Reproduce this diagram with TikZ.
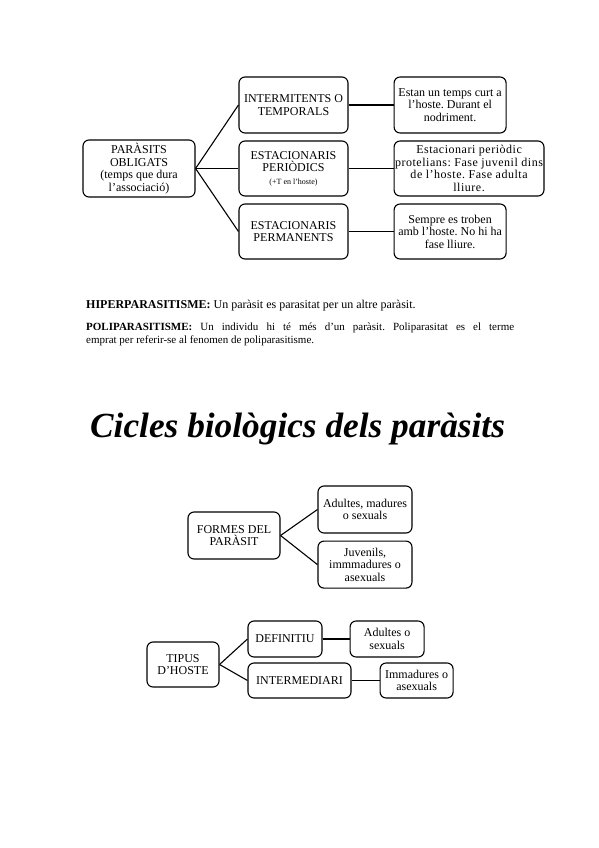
\documentclass[tikz,border=0pt]{standalone}
\usepackage{fontspec}
\setmainfont{Liberation Serif}
\usetikzlibrary{positioning}
\frenchspacing

\begin{document}
\begin{tikzpicture}[x=1pt,y=-1pt,
  box/.style={draw,rounded corners=6pt,line width=1.1pt,align=center,inner sep=1pt,font=\fontsize{12}{12.5}\selectfont},
  link/.style={line width=1.1pt}]
  \useasboundingbox (0,0) rectangle (599,848);
  % parasits obligats
  \node[box,minimum width=112pt,minimum height=57pt] (obligats) at (139,168.5) {PARÀSITS\\OBLIGATS\\(temps que dura\\l'associació)};
  \node[box,minimum width=109pt,minimum height=56pt] (intermitents) at (293.5,105) {INTERMITENTS O\\TEMPORALS};
  \node[box,minimum width=109pt,minimum height=55pt] (periodics) at (293.5,168.5) {ESTACIONARIS\\PERIÒDICS\\{\fontsize{8}{9}\selectfont (+T en l'hoste)}};
  \node[box,minimum width=109pt,minimum height=55pt] (permanents) at (293.5,231.5) {ESTACIONARIS\\PERMANENTS};
  \node[box,minimum width=112pt,minimum height=56pt,right=45pt of intermitents] (curt) {Estan un temps curt a\\l'hoste. Durant el\\nodriment.};
  \node[box,minimum width=142pt,minimum height=55pt,right=45pt of periodics,font=\fontsize{12}{12.5}\selectfont\addfontfeature{LetterSpace=4.3}] (protelians) {Estacionari periòdic\\protelians: Fase juvenil dins\\de l'hoste. Fase adulta\\lliure.};
  \node[box,minimum width=112pt,minimum height=55pt,right=45pt of permanents] (sempre) {Sempre es troben\\amb l'hoste. No hi ha\\fase lliure.};
  \draw[link] (obligats.east) -- (intermitents.west);
  \draw[link] (obligats.east) -- (periodics.west);
  \draw[link] (obligats.east) -- (permanents.west);
  \draw[link] (intermitents) -- (curt);
  \draw[link] (periodics) -- (protelians);
  \draw[link] (permanents) -- (sempre);
  % definicions
  \node[anchor=base west,inner sep=0,font=\fontsize{12}{13}\selectfont] (hiper) at (86,308) {\textbf{HIPERPARASITISME:} Un paràsit es parasitat per un altre paràsit.};
  \node[anchor=north west,inner sep=0,text width=428pt,align=justify,font=\fontsize{11}{13}\selectfont] (poli) at (86,323) {\textbf{POLIPARASITISME:} Un individu hi té més d'un paràsit. Poliparasitat es el terme\linebreak emprat per referir-se al fenomen de poliparasitisme.};
  % titol
  \node[anchor=base west,inner sep=0,font=\fontsize{35.3}{40}\selectfont\bfseries\itshape] (titol) at (90,437) {Cicles biològics dels paràsits};
  % formes del parasit
  \node[box,minimum width=92pt,minimum height=47pt] (formes) at (234,535.5) {FORMES DEL\\PARÀSIT};
  \node[box,minimum width=94pt,minimum height=47pt] (madures) at (365,509.5) {Adultes, madures\\o sexuals};
  \node[box,minimum width=94pt,minimum height=47pt,below=7pt of madures] (juvenils) {Juvenils,\\immmadures o\\asexuals};
  \draw[link] (formes.east) -- (madures.west);
  \draw[link] (formes.east) -- (juvenils.west);
  % tipus d'hoste
  \node[box,minimum width=72pt,minimum height=45pt] (tipus) at (183,664.5) {TIPUS\\D'HOSTE};
  \node[box,minimum width=74pt,minimum height=36pt] (definitiu) at (285,639) {DEFINITIU};
  \node[box,minimum width=103pt,minimum height=35pt] (intermediari) at (299.5,680.5) {INTERMEDIARI};
  \node[box,minimum width=74pt,minimum height=36pt,right=27pt of definitiu] (sexuals) {Adultes o\\sexuals};
  \node[box,minimum width=73pt,minimum height=35pt,right=28pt of intermediari] (asexuals) {Immadures o\\asexuals};
  \draw[link] (tipus.east) -- (definitiu.west);
  \draw[link] (tipus.east) -- (intermediari.west);
  \draw[link] (definitiu) -- (sexuals);
  \draw[link] (intermediari) -- (asexuals);
\end{tikzpicture}
\end{document}
